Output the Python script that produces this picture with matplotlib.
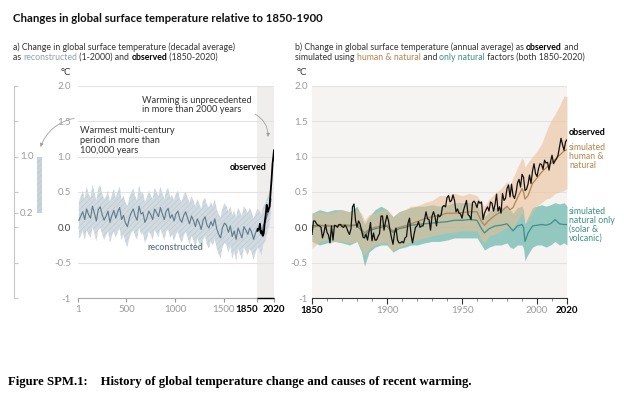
import numpy as np
import matplotlib.pyplot as plt
from matplotlib.transforms import blended_transform_factory

plt.rcParams['font.family'] = ['Lato', 'DejaVu Sans']
plt.rcParams['hatch.linewidth'] = 0.4

# ---- panel a: reconstructed (decadal, 20-yr sampling) ----
recon_years = list(range(10, 2000, 20))
recon_mid = [0.10, 0.16, 0.22, 0.11, 0.26, 0.18, 0.13, 0.30, 0.20, 0.09,
             0.25, 0.29, 0.18, 0.10, 0.16, 0.23, 0.07, 0.17, 0.24, 0.13,
             0.22, 0.28, 0.11, 0.17, 0.06, 0.01, 0.13, 0.21, 0.26, 0.16,
             0.10, 0.30, 0.19, 0.21, 0.07, 0.13, 0.23, 0.18, 0.11, 0.26,
             0.21, 0.15, 0.28, 0.19, 0.11, 0.23, 0.27, 0.13, 0.18, 0.09,
             0.19, 0.23, 0.12, 0.07, 0.17, 0.22, 0.13, 0.05, 0.16, 0.10,
             0.01, 0.12, 0.06, -0.03, 0.10, 0.15, 0.03, -0.01, 0.08, 0.02,
             0.12, -0.02, -0.10, -0.15, 0.00, 0.06, 0.03, -0.07, 0.02, -0.13,
             -0.05, -0.17, -0.01, -0.08, -0.15, 0.01, -0.04, -0.10, -0.01, -0.07,
             -0.17, -0.08, -0.01, -0.04, -0.11, 0.03, 0.07, 0.17, 0.25, 0.40]
recon_hi = [0.36, 0.44, 0.52, 0.40, 0.58, 0.47, 0.42, 0.60, 0.50, 0.38,
            0.55, 0.60, 0.48, 0.40, 0.44, 0.52, 0.36, 0.46, 0.55, 0.42,
            0.50, 0.58, 0.40, 0.45, 0.35, 0.30, 0.42, 0.50, 0.55, 0.44,
            0.38, 0.60, 0.48, 0.50, 0.36, 0.42, 0.52, 0.46, 0.40, 0.56,
            0.50, 0.44, 0.58, 0.48, 0.40, 0.52, 0.56, 0.42, 0.46, 0.38,
            0.48, 0.52, 0.40, 0.36, 0.46, 0.50, 0.42, 0.35, 0.44, 0.38,
            0.30, 0.40, 0.34, 0.26, 0.38, 0.42, 0.32, 0.28, 0.36, 0.30,
            0.40, 0.26, 0.18, 0.14, 0.28, 0.34, 0.30, 0.22, 0.30, 0.18,
            0.24, 0.14, 0.28, 0.22, 0.16, 0.30, 0.26, 0.20, 0.28, 0.22,
            0.12, 0.20, 0.26, 0.24, 0.18, 0.30, 0.34, 0.42, 0.48, 0.60]
recon_lo = [-0.16, -0.12, -0.05, -0.18, -0.04, -0.10, -0.15, 0.00, -0.08, -0.20,
            -0.04, 0.00, -0.10, -0.18, -0.12, -0.05, -0.22, -0.12, -0.06, -0.15,
            -0.06, -0.02, -0.18, -0.10, -0.22, -0.28, -0.15, -0.08, -0.04, -0.12,
            -0.18, 0.00, -0.10, -0.08, -0.22, -0.16, -0.06, -0.10, -0.18, -0.04,
            -0.08, -0.14, -0.02, -0.10, -0.18, -0.06, -0.03, -0.15, -0.10, -0.20,
            -0.10, -0.06, -0.16, -0.22, -0.12, -0.06, -0.15, -0.24, -0.12, -0.18,
            -0.28, -0.15, -0.22, -0.32, -0.18, -0.12, -0.25, -0.30, -0.20, -0.26,
            -0.16, -0.30, -0.38, -0.44, -0.28, -0.22, -0.25, -0.36, -0.26, -0.45,
            -0.34, -0.48, -0.30, -0.38, -0.46, -0.28, -0.34, -0.40, -0.30, -0.36,
            -0.46, -0.36, -0.28, -0.32, -0.40, -0.24, -0.20, -0.08, 0.02, 0.20]

# observed, decadal
obs_dec_years = [1850, 1855, 1865, 1875, 1885, 1895, 1905, 1915, 1925, 1935,
                 1945, 1955, 1965, 1975, 1985, 1995, 2005, 2015, 2020]
obs_dec = [-0.05, -0.02, -0.03, 0.05, -0.08, -0.05, -0.12, -0.08, 0.08, 0.18,
           0.32, 0.22, 0.26, 0.30, 0.50, 0.68, 0.90, 1.02, 1.09]

# warmest multi-century period (left bar)
warm_lo, warm_hi = 0.2, 1.0

# ---- panel b: annual ----
obs_years = list(range(1850, 2021))
obs_annual = [-0.10, 0.09, 0.09, 0.05, 0.03, 0.02, 0.00, -0.15, -0.07, 0.04,
              -0.07, -0.11, -0.22, 0.02, -0.18, 0.03, 0.02, 0.00, 0.04, 0.04,
              0.01, 0.00, 0.03, 0.00, -0.06, -0.10, -0.02, 0.29, 0.33, 0.10,
              0.00, 0.09, 0.05, -0.04, -0.14, -0.15, -0.10, -0.18, -0.06, 0.07,
              -0.19, -0.08, -0.18, -0.18, -0.13, -0.09, 0.16, 0.16, -0.04, 0.08,
              0.17, 0.09, -0.04, -0.15, -0.24, -0.08, -0.01, -0.18, -0.22, -0.22,
              -0.20, -0.22, -0.15, -0.13, 0.06, 0.13, -0.10, -0.22, -0.10, 0.00,
              0.02, 0.08, 0.00, 0.02, 0.02, 0.11, 0.22, 0.12, 0.11, -0.04,
              0.16, 0.22, 0.15, 0.02, 0.18, 0.15, 0.17, 0.29, 0.31, 0.29,
              0.42, 0.45, 0.36, 0.38, 0.46, 0.38, 0.22, 0.26, 0.20, 0.19,
              0.13, 0.24, 0.31, 0.38, 0.18, 0.16, 0.11, 0.35, 0.37, 0.34,
              0.28, 0.37, 0.34, 0.36, 0.11, 0.20, 0.25, 0.29, 0.23, 0.36,
              0.34, 0.23, 0.32, 0.47, 0.23, 0.29, 0.20, 0.48, 0.38, 0.41,
              0.55, 0.60, 0.43, 0.61, 0.45, 0.41, 0.49, 0.63, 0.68, 0.57,
              0.75, 0.71, 0.52, 0.54, 0.61, 0.74, 0.62, 0.80, 0.90, 0.76,
              0.72, 0.83, 0.90, 0.89, 0.82, 0.95, 0.91, 0.92, 0.81, 0.93,
              1.02, 0.90, 0.94, 0.97, 1.02, 1.14, 1.26, 1.17, 1.09, 1.21, 1.24]

sim_years = [1850, 1855, 1860, 1865, 1870, 1875, 1880, 1883, 1885, 1888,
             1892, 1896, 1900, 1902, 1904, 1908, 1912, 1916, 1920, 1925,
             1930, 1935, 1940, 1945, 1950, 1955, 1960, 1963, 1965, 1968,
             1972, 1976, 1980, 1982, 1984, 1987, 1990, 1991, 1992, 1994,
             1997, 2000, 2003, 2006, 2009, 2012, 2015, 2018, 2020]
hn_mean = [0.00, 0.02, 0.03, 0.02, 0.04, 0.03, 0.04, -0.02, -0.08, -0.03,
           0.00, 0.02, 0.03, -0.02, -0.05, 0.00, 0.02, 0.05, 0.08, 0.12,
           0.15, 0.17, 0.20, 0.20, 0.21, 0.22, 0.22, 0.08, 0.03, 0.10,
           0.17, 0.22, 0.30, 0.25, 0.28, 0.42, 0.55, 0.50, 0.40, 0.45,
           0.62, 0.70, 0.78, 0.84, 0.90, 0.96, 1.02, 1.08, 1.10]
hn_hi = [0.20, 0.22, 0.20, 0.22, 0.25, 0.22, 0.25, 0.20, 0.10, 0.18,
         0.20, 0.25, 0.25, 0.20, 0.15, 0.22, 0.25, 0.30, 0.30, 0.35,
         0.38, 0.45, 0.45, 0.48, 0.45, 0.48, 0.45, 0.35, 0.30, 0.40,
         0.48, 0.55, 0.65, 0.60, 0.70, 0.85, 0.98, 0.95, 0.85, 0.92,
         1.00, 1.08, 1.18, 1.35, 1.50, 1.60, 1.72, 1.86, 1.85]
hn_lo = [-0.30, -0.20, -0.18, -0.20, -0.20, -0.22, -0.20, -0.30, -0.40, -0.30,
         -0.25, -0.22, -0.22, -0.30, -0.33, -0.28, -0.25, -0.20, -0.18, -0.15,
         -0.12, -0.10, -0.08, -0.07, -0.05, -0.05, -0.05, -0.18, -0.22, -0.12,
         -0.10, -0.05, 0.00, -0.02, 0.00, 0.10, 0.20, 0.15, 0.05, 0.10,
         0.22, 0.30, 0.35, 0.40, 0.42, 0.48, 0.50, 0.52, 0.55]
nat_mean = [0.02, 0.03, 0.02, 0.02, 0.03, 0.02, 0.03, -0.05, -0.12, -0.05,
            -0.02, 0.00, 0.02, -0.04, -0.07, -0.02, 0.00, 0.03, 0.04, 0.05,
            0.06, 0.07, 0.08, 0.10, 0.10, 0.11, 0.10, -0.02, -0.08, -0.02,
            0.02, 0.03, 0.05, 0.00, -0.05, 0.02, 0.04, 0.00, -0.20, -0.08,
            0.02, 0.03, 0.04, 0.03, 0.05, 0.11, 0.05, 0.04, 0.04]
nat_hi = [0.20, 0.25, 0.22, 0.25, 0.25, 0.22, 0.30, 0.15, 0.05, 0.15,
          0.25, 0.30, 0.25, 0.20, 0.15, 0.22, 0.25, 0.28, 0.30, 0.30,
          0.32, 0.30, 0.32, 0.35, 0.35, 0.35, 0.32, 0.22, 0.15, 0.22,
          0.28, 0.28, 0.30, 0.25, 0.20, 0.28, 0.30, 0.25, 0.05, 0.15,
          0.28, 0.30, 0.32, 0.30, 0.32, 0.35, 0.33, 0.35, 0.30]
nat_lo = [-0.20, -0.25, -0.22, -0.20, -0.22, -0.25, -0.20, -0.35, -0.55, -0.35,
          -0.28, -0.25, -0.25, -0.30, -0.35, -0.30, -0.28, -0.25, -0.25, -0.22,
          -0.20, -0.20, -0.18, -0.15, -0.15, -0.15, -0.15, -0.25, -0.32, -0.28,
          -0.25, -0.25, -0.22, -0.28, -0.30, -0.25, -0.25, -0.30, -0.47, -0.38,
          -0.28, -0.25, -0.25, -0.28, -0.25, -0.20, -0.25, -0.22, -0.25]

yticks = [-1, -0.5, 0, 0.5, 1.0, 1.5, 2.0]
ytick_labels = ['-1', '-0.5', '0.0', '0.5', '1.0', '1.5', '2.0']

c_recon_line = '#617a8a'
c_recon_fill = '#d0dae0'
c_recon_hatch = '#bac8d1'
c_human = '#b5854f'
c_human_fill = '#ebbd92'
c_nat = '#3e8f88'
c_nat_fill = '#7bbdb4'
c_grid = '#e4e3e1'
c_tick = '#9a9a9a'
c_text = '#333333'

fig = plt.figure(figsize=(6.24, 3.99), dpi=100)
renderer = fig.canvas.get_renderer()


def rich_text(x, y, parts, size):
    # consecutive text pieces with their own colour / weight
    for s, color, weight in parts:
        t = fig.text(x, y, s, color=color, fontweight=weight, fontsize=size, va='baseline')
        x += t.get_window_extent(renderer=renderer).width / fig.bbox.width


def style_yaxis(ax, pad):
    ax.set_ylim(-1, 2)
    ax.set_yticks(yticks)
    ax.set_yticklabels(ytick_labels)
    ax.tick_params(axis='y', length=0, labelsize=7, labelcolor=c_tick, pad=pad)
    ax.get_yticklabels()[2].set_color('#444444')
    ax.grid(axis='y', color=c_grid, lw=0.8)
    ax.set_axisbelow(True)
    for s in ['top', 'right', 'left']:
        ax.spines[s].set_visible(False)


# ---- left bar ----
ax0 = fig.add_axes([14 / 624, 0.2531, 31 / 624, 0.5314])
ax0.set_xlim(0, 31)
ax0.set_ylim(-1, 2)
for s in ['top', 'right', 'bottom']:
    ax0.spines[s].set_visible(False)
ax0.spines['left'].set_color('#c8c8c8')
ax0.spines['left'].set_linewidth(0.8)
ax0.set_xticks([])
ax0.set_yticks([-1, -0.5, 0, warm_lo, 0.5, warm_hi, 1.5, 2.0])
ax0.tick_params(axis='y', direction='in', length=3, color='#c8c8c8', labelleft=False)
ax0.patch.set_alpha(0)
for v in [warm_hi, warm_lo]:
    ax0.text(6, v, f'{v:.1f}', fontsize=7, color=c_tick, va='center')
ax0.bar(25.5, warm_hi - warm_lo, bottom=warm_lo, width=5, facecolor='#c8d3da',
        edgecolor=c_recon_hatch, hatch='//////', lw=0)

# ---- panel a ----
ax1 = fig.add_axes([0.125, 0.2531, 0.3141, 0.5314])
ax1.set_xlim(1, 2020)
style_yaxis(ax1, 5)
ax1.axvspan(1850, 2020, color='#efeeec', zorder=0, lw=0)
ax1.fill_between(recon_years, recon_lo, recon_hi, facecolor=c_recon_fill,
                 edgecolor=c_recon_hatch, hatch='//////', lw=0, zorder=1)
ax1.plot(recon_years, recon_mid, color=c_recon_line, lw=0.8, zorder=2)
ax1.plot(obs_dec_years, obs_dec, color='black', lw=1.3, zorder=3)

ax1.set_xticks([1, 500, 1000, 1500, 1850, 2020])
ax1.set_xticklabels(['1', '500', '1000', '1500', '1850', '2020'])
ax1.tick_params(axis='x', length=3, color=c_tick, labelsize=7, labelcolor=c_tick, pad=2)
for lab in ax1.get_xticklabels()[4:]:
    lab.set_color('black')
    lab.set_fontweight('bold')
ax1.get_xticklabels()[4].set_ha('right')
for tl in ax1.get_xticklines()[8:]:
    tl.set_color('black')
ax1.spines['bottom'].set_color('#aaaaaa')
ax1.spines['bottom'].set_linewidth(0.8)
ax1.hlines(-1, 1850, 2020, color='black', lw=1.0, clip_on=False, zorder=5)
ax1.text(-0.088, 1.065, '°C', transform=ax1.transAxes, fontsize=7, color='#333333', va='center')

ax1.text(0.327, 0.955, 'Warming is unprecedented\nin more than 2000 years', transform=ax1.transAxes,
         fontsize=6.7, color=c_text, va='top', linespacing=1.1)
ax1.annotate('', xy=(1957, 1.24), xytext=(1800, 1.62),
             arrowprops=dict(arrowstyle='-|>', color='#a0a0a0', lw=0.6, mutation_scale=5,
                             connectionstyle='arc3,rad=-0.35'))
ax1.text(0.012, 0.81, 'Warmest multi-century\nperiod in more than\n100,000 years', transform=ax1.transAxes,
         fontsize=6.7, color=c_text, va='top', linespacing=1.1)
ax1.annotate('', xy=(25.5, 1.1), xycoords=ax0.transData, xytext=(-10, 1.55), textcoords=ax1.transData,
             arrowprops=dict(arrowstyle='-|>', color='#a0a0a0', lw=0.6, mutation_scale=5,
                             connectionstyle='arc3,rad=0.3'))
ax1.text(1948, 0.85, 'observed', fontsize=6.5, fontweight='bold', color='black', ha='right', va='center')
ax1.text(1000, -0.28, 'reconstructed', fontsize=6.5, fontweight='bold', color='#6d8190', ha='center', va='center')

# ---- panel b ----
ax2 = fig.add_axes([0.5, 0.2531, 0.4087, 0.5314])
ax2.set_facecolor('#f5f4f2')
ax2.set_xlim(1850, 2020)
style_yaxis(ax2, 3)
ax2.fill_between(sim_years, nat_lo, nat_hi, color=c_nat_fill, alpha=0.8, lw=0, zorder=1)
ax2.fill_between(sim_years, hn_lo, hn_hi, color=c_human_fill, alpha=0.55, lw=0, zorder=2)
ax2.plot(sim_years, nat_mean, color=c_nat, lw=0.9, zorder=3)
ax2.plot(sim_years, hn_mean, color=c_human, lw=0.9, zorder=3)
ax2.plot(obs_years, obs_annual, color='#111111', lw=0.9, zorder=4)

ax2.set_xticks([1850, 1900, 1950, 2000, 2020])
ax2.set_xticklabels(['1850', '1900', '1950', '2000', '2020'])
ax2.set_xticks(list(range(1860, 2020, 10)), minor=True)
ax2.tick_params(axis='x', which='major', length=4, color='#333333', labelsize=7, labelcolor=c_tick, pad=2)
ax2.tick_params(axis='x', which='minor', length=2.5, color='#777777')
for i in [0, 4]:
    ax2.get_xticklabels()[i].set_color('black')
    ax2.get_xticklabels()[i].set_fontweight('bold')
ax2.spines['bottom'].set_color('#333333')
ax2.spines['bottom'].set_linewidth(0.8)
ax2.text(-0.06, 1.065, '°C', transform=ax2.transAxes, fontsize=7, color='#333333', va='center')

tb = blended_transform_factory(ax2.transAxes, ax2.transData)
ax2.text(1.008, 1.335, 'observed', transform=tb, fontsize=6.5, fontweight='bold', color='black', va='center')
ax2.text(1.008, 1.2, 'simulated\nhuman &\nnatural', transform=tb, fontsize=6.3, color=c_human,
         va='top', linespacing=1.0)
ax2.text(1.008, 0.29, 'simulated\nnatural only\n(solar &\nvolcanic)', transform=tb, fontsize=6.3, color=c_nat,
         va='top', linespacing=1.0)

# ---- titles ----
fig.text(13 / 624, 1 - 18 / 399, 'Changes in global surface temperature relative to 1850-1900',
         fontsize=8.2, fontweight='bold', color='#111111', va='center')
rich_text(13 / 624, 1 - 50 / 399, [('a) Change in global surface temperature (decadal average)', c_text, 'normal')], 6.3)
rich_text(13 / 624, 1 - 60 / 399, [('as ', c_text, 'normal'), ('reconstructed', '#8ea2b0', 'normal'),
                                   (' (1-2000) and ', c_text, 'normal'), ('observed', 'black', 'bold'),
                                   (' (1850-2020)', c_text, 'normal')], 6.3)
rich_text(295 / 624, 1 - 50 / 399, [('b) Change in global surface temperature (annual average) as ', c_text, 'normal'),
                                    ('observed', 'black', 'bold'), (' and', c_text, 'normal')], 6.3)
rich_text(295 / 624, 1 - 60 / 399, [('simulated using ', c_text, 'normal'), ('human & natural', c_human, 'normal'),
                                    (' and ', c_text, 'normal'), ('only natural', c_nat, 'normal'),
                                    (' factors (both 1850-2020)', c_text, 'normal')], 6.3)

fig.text(8 / 624, 1 - 382 / 399,
         'Figure SPM.1:    History of global temperature change and causes of recent warming.',
         family=['Liberation Serif', 'DejaVu Serif'], fontweight='bold', fontsize=9.2, va='center')

fig.savefig('out.png', dpi=100)
